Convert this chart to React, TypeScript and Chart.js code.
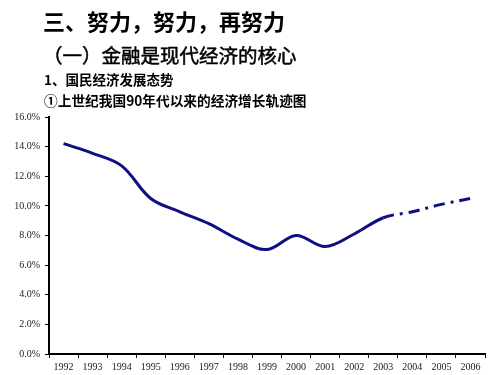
import React, { useEffect, useRef } from "react";
import { Chart, registerables } from "chart.js";

Chart.register(...registerables);

const years = ["1992","1993","1994","1995","1996","1997","1998","1999","2000","2001","2002","2003","2004","2005","2006"];
const growth = [14.2, 13.55, 12.7, 10.5, 9.6, 8.8, 7.75, 7.05, 8.0, 7.25, 8.1, 9.2, 9.6, 10.1, 10.5];
const forecastStartIndex = 11;
const yTicks = [0, 2, 4, 6, 8, 10, 12, 14, 16];

const title1 = "三、努力，努力，再努力";
const title2 = "（一）金融是现代经济的核心";
const title3 = "1、国民经济发展态势";
const title4 = "①上世纪我国90年代以来的经济增长轨迹图";

export default function App() {
  const ref = useRef<HTMLCanvasElement | null>(null);

  useEffect(() => {
    document.body.style.margin = "0";
    const canvas = ref.current;
    if (!canvas) return;
    const chart = new Chart(canvas, {
      type: "line",
      data: {
        labels: years,
        datasets: [
          {
            data: growth,
            borderColor: "#0f0f80",
            borderWidth: 3,
            pointRadius: 0,
            tension: 0.35,
            fill: false,
            segment: {
              borderDash: (ctx: any) => (ctx.p0DataIndex >= forecastStartIndex ? [11, 6, 3, 6] : undefined),
            },
          },
        ],
      },
      options: {
        responsive: false,
        animation: false,
        layout: { padding: { top: 117, left: 0, right: 15, bottom: 0 } },
        plugins: { legend: { display: false }, tooltip: { enabled: false }, title: { display: false } },
        scales: {
          x: {
            type: "category",
            offset: true,
            afterFit: (s: any) => { s.height = 21; },
            grid: { drawOnChartArea: false, drawTicks: true, tickLength: 4, color: "#000", offset: true },
            border: { display: true, color: "#000", width: 2 },
            ticks: { color: "#222", font: { family: "Liberation Serif", size: 10 }, padding: 3, maxRotation: 0, autoSkip: false },
          },
          y: {
            min: 0,
            max: 16,
            afterFit: (s: any) => { s.width = 49; },
            afterBuildTicks: (s: any) => { s.ticks = yTicks.map((v) => ({ value: v })); },
            grid: { drawOnChartArea: false, drawTicks: true, tickLength: 4, color: "#000" },
            border: { display: true, color: "#000", width: 2 },
            ticks: {
              color: "#222",
              font: { family: "Liberation Serif", size: 10 },
              padding: 5,
              callback: (v: any) => `${Number(v).toFixed(1)}%`,
            },
          },
        },
      },
    });
    return () => chart.destroy();
  }, []);

  const cjk = '"Noto Sans CJK SC", sans-serif';
  const base: React.CSSProperties = { position: "absolute", whiteSpace: "nowrap", fontFamily: cjk, color: "#000" };

  return (
    <div style={{ position: "relative", width: 500, height: 375, background: "#fff", overflow: "hidden" }}>
      <canvas ref={ref} width={500} height={375} style={{ position: "absolute", left: 0, top: 0 }} />
      <div style={{ ...base, left: 43, top: 9, fontSize: 22, lineHeight: "22px", fontWeight: 700 }}>{title1}</div>
      <div style={{ ...base, left: 43, top: 45, fontSize: 19.5, lineHeight: "20px", fontWeight: 400, WebkitTextStroke: "0.5px #000" } as React.CSSProperties}>{title2}</div>
      <div style={{ ...base, left: 44, top: 72, fontSize: 13.5, lineHeight: "14px", fontWeight: 700 }}>{title3}</div>
      <div style={{ ...base, left: 44, top: 93, fontSize: 13.7, lineHeight: "14px", fontWeight: 700 }}>{title4}</div>
    </div>
  );
}
